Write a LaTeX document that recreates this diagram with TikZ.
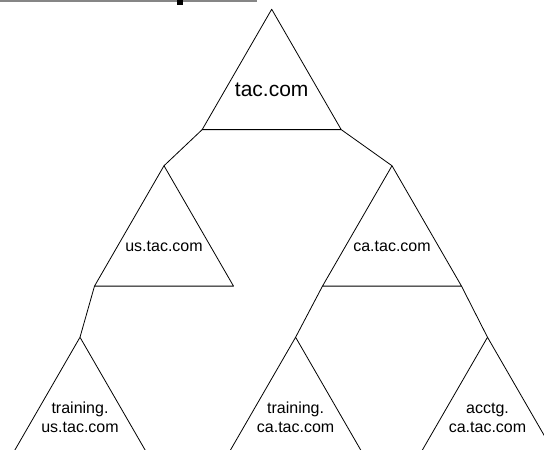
\documentclass[tikz,border=0pt]{standalone}
\usepackage{fontspec}
\setmainfont{Liberation Sans}
% #1 name, #2 x, #3 y of the centroid, #4 label, #5 font size
\newcommand\domtri[5]{%
  \coordinate (#1-top) at (#2,#3-80.25);
  \coordinate (#1-left) at (#2-69.5,#3+40.1);
  \coordinate (#1-right) at (#2+69.5,#3+40.1);
  \draw[edge] (#1-top) -- (#1-left) -- (#1-right) -- cycle;
  \node[label text, font=\fontsize{#5}{19}\selectfont] (#1) at (#2,#3) {#4};
}
\begin{document}
\begin{tikzpicture}[x=1pt,y=-1pt,
  label text/.style={inner sep=0pt, align=center},
  edge/.style={draw=black, line width=0.8pt, line join=round}]
  \useasboundingbox (0,0) rectangle (544,450);
  \clip (0,0) rectangle (544,450);
  % fragment of the heading strip along the top edge
  \fill[gray!95] (0,0) rectangle (257,1.7);
  \fill[black] (177,0) rectangle (183,4.5);
  % domain tree
  \domtri{root}{271.7}{89.5}{tac.com}{21}
  \domtri{us}{164}{246}{us.tac.com}{16}
  \domtri{ca}{392}{246}{ca.tac.com}{16}
  \domtri{trus}{80}{417.5}{training.\\us.tac.com}{16}
  \domtri{trca}{295.6}{417.5}{training.\\ca.tac.com}{16}
  \domtri{acct}{487.5}{417.5}{acctg.\\ca.tac.com}{16}
  \draw[edge] (root-left) -- (us-top);
  \draw[edge] (root-right) -- (ca-top);
  \draw[edge] (us-left) -- (trus-top);
  \draw[edge] (ca-left) -- (trca-top);
  \draw[edge] (ca-right) -- (acct-top);
\end{tikzpicture}
\end{document}
